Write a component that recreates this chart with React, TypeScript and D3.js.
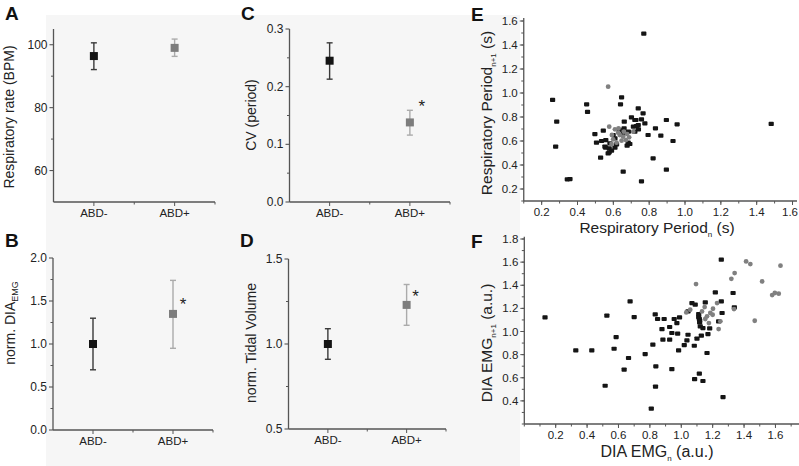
import React from "react";
import * as d3 from "d3";

// ---------- data ----------
const categories = ["ABD-", "ABD+"];

const rateMean = [96.4, 99.0];
const rateLow = [92.1, 96.3];
const rateHigh = [100.6, 101.8];

const diaMean = [1.0, 1.35];
const diaLow = [0.7, 0.95];
const diaHigh = [1.3, 1.74];

const cvMean = [0.245, 0.138];
const cvLow = [0.213, 0.116];
const cvHigh = [0.276, 0.159];

const tidalMean = [1.0, 1.23];
const tidalLow = [0.91, 1.11];
const tidalHigh = [1.09, 1.35];

const rateTicks = [60, 80, 100];
const rateMinor = [70, 90];
const diaTicks = [0, 0.5, 1, 1.5, 2];
const diaMinor = [0.25, 0.75, 1.25, 1.75];
const cvTicks = [0, 0.1, 0.2, 0.3];
const cvMinor = [0.05, 0.15, 0.25];
const tidalTicks = [0.5, 1, 1.5];
const tidalMinor = [0.75, 1.25];

const scatterTicks = [0.2, 0.4, 0.6, 0.8, 1.0, 1.2, 1.4, 1.6];
const emgYTicks = [0.4, 0.6, 0.8, 1.0, 1.2, 1.4, 1.6, 1.8];

// Panel E: period n vs period n+1
const periodBlack: [number, number][] = [
  [0.77, 1.494], [0.261, 0.942], [0.284, 0.761], [0.278, 0.553], [0.343, 0.281], [0.358, 0.283],
  [0.451, 0.906], [0.456, 0.842], [0.646, 0.964], [0.64, 0.906], [0.739, 0.872], [0.766, 0.831],
  [0.661, 0.761], [0.701, 0.797], [0.72, 0.775], [0.757, 0.781], [0.776, 0.747], [0.896, 0.775],
  [0.956, 0.739], [0.835, 0.706], [0.865, 0.644], [0.794, 0.65], [0.933, 0.6], [0.822, 0.456],
  [0.896, 0.361], [0.655, 0.344], [0.757, 0.264], [0.529, 0.461], [0.497, 0.658], [0.506, 0.586],
  [0.544, 0.686], [0.534, 0.6], [0.558, 0.608], [0.553, 0.553], [0.577, 0.539], [0.571, 0.497],
  [0.59, 0.519], [0.609, 0.544], [0.618, 0.572], [0.599, 0.65], [0.633, 0.692], [0.66, 0.706],
  [0.684, 0.678], [0.712, 0.719], [0.729, 0.725], [0.74, 0.697], [0.692, 0.575], [0.677, 0.561],
  [0.581, 0.581], [0.609, 0.622], [1.481, 0.742], [0.726, 0.775], [0.683, 0.586], [0.655, 0.664],
  [0.72, 0.678], [0.739, 0.733], [0.557, 0.544], [0.577, 0.506],
];
const periodGrey: [number, number][] = [
  [0.571, 1.053], [0.577, 0.719], [0.609, 0.697], [0.627, 0.669], [0.599, 0.614], [0.636, 0.65],
  [0.655, 0.636], [0.67, 0.608], [0.688, 0.631], [0.618, 0.586], [0.646, 0.603], [0.59, 0.575],
  [0.677, 0.658], [0.711, 0.678], [0.629, 0.706], [0.659, 0.678], [0.592, 0.65],
];

// Panel F: DIA EMG n vs n+1
const emgBlack: [number, number][] = [
  [0.132, 1.122], [0.328, 0.837], [0.43, 0.837], [0.526, 1.137], [0.515, 0.531], [0.585, 0.952],
  [0.572, 0.851], [0.664, 0.771], [0.636, 0.67], [0.674, 1.261], [0.7, 1.125], [0.77, 0.805],
  [0.809, 0.333], [0.819, 0.886], [0.834, 1.148], [0.849, 1.108], [0.838, 0.699], [0.836, 0.523],
  [0.891, 1.108], [0.877, 1.021], [0.883, 0.929], [0.926, 1.039], [0.926, 0.929], [0.94, 0.987],
  [0.955, 1.108], [0.972, 1.073], [0.989, 1.122], [0.977, 0.981], [0.983, 0.837], [0.94, 0.675],
  [1.019, 0.883], [1.036, 0.923], [1.043, 0.972], [1.043, 1.174], [1.068, 1.246], [1.089, 1.232],
  [1.083, 0.877], [1.1, 0.938], [1.115, 1.108], [1.117, 1.079], [1.121, 1.044], [1.128, 0.964],
  [1.138, 1.03], [1.153, 1.252], [1.17, 0.978], [1.181, 1.027], [1.164, 0.814], [1.217, 1.338],
  [1.255, 1.261], [1.26, 1.16], [1.255, 1.621], [1.33, 1.333], [1.338, 1.209], [1.085, 0.588],
  [1.115, 0.635], [1.138, 0.572], [1.266, 0.433], [1.111, 1.125], [1.238, 1.088], [1.111, 1.15],
  [1.117, 1.095],
];
const emgGrey: [number, number][] = [
  [1.094, 1.41], [1.319, 1.456], [1.34, 1.505], [1.413, 1.606], [1.44, 1.583], [1.632, 1.569],
  [1.515, 1.433], [1.579, 1.315], [1.596, 1.333], [1.621, 1.327], [1.468, 1.093], [1.336, 1.194],
  [1.228, 1.246], [1.238, 1.021], [1.249, 1.088], [1.202, 1.197], [1.185, 1.16], [1.149, 1.211],
  [1.164, 1.131], [1.132, 1.174], [1.032, 1.165], [1.057, 1.188], [1.153, 1.108], [1.2, 1.145],
  [1.176, 1.073],
];

// ---------- styles ----------
const FONT = "'Liberation Sans', Arial, Helvetica, sans-serif";
const AXIS = "#555";
const TEXT = "#222";

type CatProps = {
  x0: number; x1: number; yTop: number; yBot: number;
  domain: [number, number]; ticks: number[]; minor: number[]; fmt: (v: number) => string;
  mean: number[]; low: number[]; high: number[];
  star?: [number, number];
};

function CatPanel(p: CatProps) {
  const x = d3.scaleLinear().domain([0.5, 2.5]).range([p.x0, p.x1]);
  const y = d3.scaleLinear().domain(p.domain).range([p.yBot, p.yTop]);
  const markerFill = ["#141414", "#7d7d7d"];
  const barColor = ["#3a3a3a", "#ababab"];
  return (
    <g fontFamily={FONT}>
      <line x1={p.x0} x2={p.x0} y1={p.yTop} y2={p.yBot} stroke={AXIS} strokeWidth={1.3} />
      <line x1={p.x0} x2={p.x1} y1={p.yBot} y2={p.yBot} stroke={AXIS} strokeWidth={1.3} />
      {p.ticks.map((t) => (
        <g key={"t" + t}>
          <line x1={p.x0 - 4} x2={p.x0} y1={y(t)} y2={y(t)} stroke={AXIS} strokeWidth={1.1} />
          <text x={p.x0 - 6} y={y(t) + 4} textAnchor="end" fontSize={12} fill={TEXT}>{p.fmt(t)}</text>
        </g>
      ))}
      {p.minor.map((t) => (
        <line key={"m" + t} x1={p.x0 - 2.5} x2={p.x0} y1={y(t)} y2={y(t)} stroke={AXIS} strokeWidth={1} />
      ))}
      {[1, 1.5, 2, 2.5].map((v) => (
        <line key={"xt" + v} x1={x(v)} x2={x(v)} y1={p.yBot} y2={p.yBot + (v % 1 === 0 ? 4 : 2.5)} stroke={AXIS} strokeWidth={1} />
      ))}
      {categories.map((c, i) => (
        <text key={c} x={x(i + 1)} y={p.yBot + 15} textAnchor="middle" fontSize={11.5} fill={TEXT}>{c}</text>
      ))}
      {categories.map((c, i) => {
        const cx = x(i + 1);
        return (
          <g key={"d" + c}>
            <line x1={cx} x2={cx} y1={y(p.high[i])} y2={y(p.low[i])} stroke={barColor[i]} strokeWidth={1.4} />
            <line x1={cx - 3} x2={cx + 3} y1={y(p.high[i])} y2={y(p.high[i])} stroke={barColor[i]} strokeWidth={1.4} />
            <line x1={cx - 3} x2={cx + 3} y1={y(p.low[i])} y2={y(p.low[i])} stroke={barColor[i]} strokeWidth={1.4} />
            <rect x={cx - 4} y={y(p.mean[i]) - 4} width={8} height={8} fill={markerFill[i]} />
          </g>
        );
      })}
      {p.star && (
        <text x={x(2) + p.star[0]} y={y(p.mean[1]) + p.star[1]} textAnchor="middle" fontSize={17} fill={TEXT}>*</text>
      )}
    </g>
  );
}

type ScatProps = {
  x0: number; x1: number; yTop: number; yBot: number;
  xDomain: [number, number]; yDomain: [number, number];
  xTicks: number[]; yTicks: number[];
  black: [number, number][]; grey: [number, number][];
};

function ScatterPanel(p: ScatProps) {
  const x = d3.scaleLinear().domain(p.xDomain).range([p.x0, p.x1]);
  const y = d3.scaleLinear().domain(p.yDomain).range([p.yBot, p.yTop]);
  const xMinor = d3.range(Math.ceil(p.xDomain[0] * 10 - 1e-6), Math.floor(p.xDomain[1] * 10 + 1e-6) + 1).map((v) => v / 10);
  const yMinor = d3.range(Math.ceil(p.yDomain[0] * 10 - 1e-6), Math.floor(p.yDomain[1] * 10 + 1e-6) + 1).map((v) => v / 10);
  return (
    <g fontFamily={FONT}>
      <line x1={p.x0} x2={p.x0} y1={p.yTop} y2={p.yBot} stroke={AXIS} strokeWidth={1.3} />
      <line x1={p.x0} x2={p.x1} y1={p.yBot} y2={p.yBot} stroke={AXIS} strokeWidth={1.3} />
      {xMinor.map((v) => (
        <line key={"xm" + v} x1={x(v)} x2={x(v)} y1={p.yBot} y2={p.yBot + 2.5} stroke={AXIS} strokeWidth={1} />
      ))}
      {yMinor.map((v) => (
        <line key={"ym" + v} x1={p.x0 - 2.5} x2={p.x0} y1={y(v)} y2={y(v)} stroke={AXIS} strokeWidth={1} />
      ))}
      {p.xTicks.map((v) => (
        <g key={"xt" + v}>
          <line x1={x(v)} x2={x(v)} y1={p.yBot} y2={p.yBot + 4} stroke={AXIS} strokeWidth={1} />
          <text x={Math.min(x(v), 790)} y={p.yBot + 15} textAnchor="middle" fontSize={11.5} fill={TEXT}>{d3.format(".1f")(v)}</text>
        </g>
      ))}
      {p.yTicks.map((v) => (
        <g key={"yt" + v}>
          <line x1={p.x0 - 4} x2={p.x0} y1={y(v)} y2={y(v)} stroke={AXIS} strokeWidth={1} />
          <text x={p.x0 - 6} y={y(v) + 4} textAnchor="end" fontSize={11.5} fill={TEXT}>{d3.format(".1f")(v)}</text>
        </g>
      ))}
      {p.black.map((d, i) => (
        <rect key={"b" + i} x={x(d[0]) - 2.6} y={y(d[1]) - 2.1} width={5.2} height={4.2} rx={0.8} fill="#151515" />
      ))}
      {p.grey.map((d, i) => (
        <circle key={"g" + i} cx={x(d[0])} cy={y(d[1])} r={2.4} fill="#808080" />
      ))}
    </g>
  );
}

const Letter = ({ x, y, t }: { x: number; y: number; t: string }) => (
  <text x={x} y={y} fontFamily={FONT} fontWeight="bold" fontSize={19} fill="#111">{t}</text>
);

const RotLabel = ({ x, y, children, size = 14 }: { x: number; y: number; children: React.ReactNode; size?: number }) => (
  <text transform={`translate(${x},${y}) rotate(-90)`} textAnchor="middle" fontFamily={FONT} fontSize={size} fill={TEXT}>
    {children}
  </text>
);

export default function App() {
  return (
    <svg width={799} height={466} style={{ position: "absolute", left: 0, top: 0, background: "#fff" }}>
      <rect x={46} y={15} width={474} height={451} fill="#f6f6f6" />

      <Letter x={5} y={20} t="A" />
      <Letter x={5} y={247} t="B" />
      <Letter x={241} y={20} t="C" />
      <Letter x={240} y={247} t="D" />
      <Letter x={471} y={21} t="E" />
      <Letter x={471} y={248} t="F" />

      {/* A */}
      <CatPanel x0={53.5} x1={215} yTop={29} yBot={202} domain={[50, 105]} ticks={rateTicks} minor={rateMinor}
        fmt={(v) => String(v)} mean={rateMean} low={rateLow} high={rateHigh} />
      <RotLabel x={14} y={117}>Respiratory rate (BPM)</RotLabel>

      {/* B */}
      <CatPanel x0={53} x1={213} yTop={258} yBot={430} domain={[0, 2]} ticks={diaTicks} minor={diaMinor}
        fmt={d3.format(".1f")} mean={diaMean} low={diaLow} high={diaHigh} star={[10, -4]} />
      <RotLabel x={15} y={323}>
        norm. DIA<tspan fontSize={9} dy={3}>EMG</tspan>
      </RotLabel>

      {/* C */}
      <CatPanel x0={289.5} x1={450} yTop={29} yBot={202} domain={[0, 0.3]} ticks={cvTicks} minor={cvMinor}
        fmt={d3.format(".1f")} mean={cvMean} low={cvLow} high={cvHigh} star={[12, -10]} />
      <RotLabel x={256} y={115}>CV (period)</RotLabel>

      {/* D */}
      <CatPanel x0={288.5} x1={446} yTop={259} yBot={429} domain={[0.5, 1.5]} ticks={tidalTicks} minor={tidalMinor}
        fmt={d3.format(".1f")} mean={tidalMean} low={tidalLow} high={tidalHigh} star={[9, -3]} />
      <RotLabel x={256} y={343}>norm. Tidal Volume</RotLabel>

      {/* E */}
      <ScatterPanel x0={523.75} x1={797} yTop={18} yBot={201} xDomain={[0.1, 1.625]} yDomain={[0.1, 1.625]}
        xTicks={scatterTicks} yTicks={scatterTicks} black={periodBlack} grey={periodGrey} />
      <text x={657} y={233} textAnchor="middle" fontFamily={FONT} fontSize={15.5} fill={TEXT}>
        Respiratory Period<tspan fontSize={8} dy={4}>n</tspan><tspan dy={-4}> (s)</tspan>
      </text>
      <RotLabel x={492} y={113} size={15.5}>
        Respiratory Period<tspan fontSize={8} dy={4}>n+1</tspan><tspan dy={-4}> (s)</tspan>
      </RotLabel>

      {/* F */}
      <ScatterPanel x0={524.3} x1={799} yTop={236.7} yBot={424} xDomain={[0, 1.75]} yDomain={[0.2, 1.82]}
        xTicks={scatterTicks} yTicks={emgYTicks} black={emgBlack} grey={emgGrey} />
      <text x={657} y={457} textAnchor="middle" fontFamily={FONT} fontSize={16} fill={TEXT}>
        DIA EMG<tspan fontSize={8} dy={4}>n</tspan><tspan dy={-4}> (a.u.)</tspan>
      </text>
      <RotLabel x={492} y={343} size={15.5}>
        DIA EMG<tspan fontSize={8} dy={4}>n+1</tspan><tspan dy={-4}> (a.u.)</tspan>
      </RotLabel>
    </svg>
  );
}
